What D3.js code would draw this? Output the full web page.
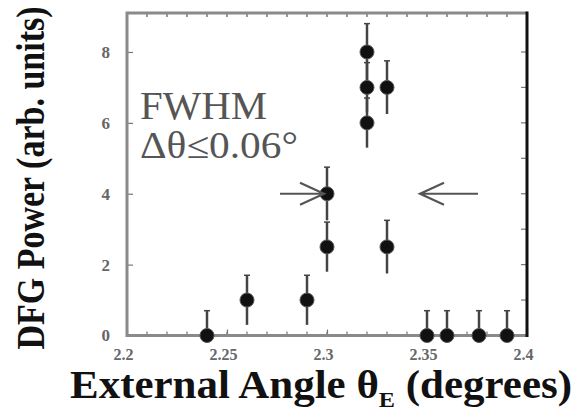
<!DOCTYPE html>
<html>
<head>
<meta charset="utf-8">
<script src="https://cdn.jsdelivr.net/npm/d3@7"></script>
<style>
	body { margin: 0; background: #fff; }
	svg { display: block; }
</style>
</head>
<body>
<svg></svg>
<script>
const svgWidth = 574;
const svgHeight = 414;

// measured points (angle in degrees, DFG power in arb. units)
const angles = [2.24, 2.26, 2.29, 2.30, 2.30, 2.32, 2.32, 2.32, 2.33, 2.33, 2.35, 2.36, 2.376, 2.39];
const powers = [0, 1, 1, 2.5, 4, 6, 7, 8, 7, 2.5, 0, 0, 0, 0];
const errors = [0.7, 0.7, 0.7, 0.7, 0.75, 0.7, 0.7, 0.8, 0.75, 0.75, 0.7, 0.7, 0.7, 0.7];

const xTicks = [2.2, 2.25, 2.3, 2.35, 2.4];
const xTickLabels = ["2.2", "2.25", "2.3", "2.35", "2.4"];
const xMinorTicks = d3.range(2.21, 2.4, 0.01);
const yTicks = [0, 2, 4, 6, 8];
const yMinorTicks = [1, 3, 5, 7];

// FWHM arrows: start angle, end angle, at power level
const arrowStarts = [2.2765, 2.3755];
const arrowEnds = [2.2985, 2.3465];
const arrowLevel = 4;

const svg = d3.select("svg")
				.attr("width", svgWidth)
				.attr("height", svgHeight);

const plotLeft = 127, plotRight = 527, plotTop = 13, plotBottom = 335.5;

let xScale = d3.scaleLinear()
				.domain([2.2, 2.4])
				.range([plotLeft, plotRight]);
let yScale = d3.scaleLinear()
				.domain([0, 9.1])
				.range([plotBottom, plotTop]);

const tickGrey = "#777";
const serif = "Liberation Serif, DejaVu Serif, serif";

// minor ticks top and bottom
svg.append("g")
	.selectAll("line")
	.data(xMinorTicks)
	.enter()
	.append("line")
		.attr("x1", d => xScale(d))
		.attr("x2", d => xScale(d))
		.attr("y1", plotTop)
		.attr("y2", plotTop + 4)
		.attr("stroke", tickGrey)
		.attr("stroke-width", 1.5);

svg.append("g")
	.selectAll("line")
	.data(xMinorTicks)
	.enter()
	.append("line")
		.attr("x1", d => xScale(d))
		.attr("x2", d => xScale(d))
		.attr("y1", plotBottom)
		.attr("y2", plotBottom - 4)
		.attr("stroke", tickGrey)
		.attr("stroke-width", 1.2);

// ticks on right edge
svg.append("g")
	.selectAll("line")
	.data(yMinorTicks.concat(yTicks.slice(1)))
	.enter()
	.append("line")
		.attr("x1", plotRight)
		.attr("x2", plotRight - 6)
		.attr("y1", d => yScale(d))
		.attr("y2", d => yScale(d))
		.attr("stroke", tickGrey)
		.attr("stroke-width", 1.2);

// x axis
let xAxis = d3.axisBottom(xScale)
				.tickValues(xTicks)
				.tickFormat((d, i) => xTickLabels[i])
				.tickSize(-6)
				.tickSizeOuter(0)
				.tickPadding(13);
let gx = svg.append("g")
	.attr("transform", `translate(0, ${plotBottom})`)
	.call(xAxis);
gx.select(".domain").remove();
gx.selectAll("line").attr("stroke", tickGrey).attr("stroke-width", 1.2);
gx.selectAll("text")
	.attr("dx", -4)
	.attr("fill", "#666")
	.attr("font-family", serif)
	.attr("font-weight", "bold")
	.attr("font-size", 16);

// y axis
let yAxis = d3.axisLeft(yScale)
				.tickValues(yTicks)
				.tickSize(-6)
				.tickSizeOuter(0)
				.tickPadding(17);
let gy = svg.append("g")
	.attr("transform", `translate(${plotLeft}, 0)`)
	.call(yAxis);
gy.select(".domain").remove();
gy.selectAll("line").attr("stroke", tickGrey).attr("stroke-width", 1.2);
gy.selectAll("text")
	.attr("fill", "#666")
	.attr("font-family", serif)
	.attr("font-weight", "bold")
	.attr("font-size", 17);

// frame
svg.append("path")
	.attr("d", `M${plotRight},${plotTop} L${plotLeft},${plotTop} L${plotLeft},${plotBottom} L${plotRight},${plotBottom}`)
	.attr("fill", "none")
	.attr("stroke", "#8a8a8a")
	.attr("stroke-width", 3);
svg.append("line")
	.attr("x1", plotRight).attr("x2", plotRight)
	.attr("y1", plotTop - 1.5).attr("y2", plotBottom + 1.5)
	.attr("stroke", "#111")
	.attr("stroke-width", 3);

// error bars
const points = angles.map((a, i) => ({x: a, y: powers[i], e: errors[i]}));

svg.append("g")
	.selectAll("line")
	.data(points)
	.enter()
	.append("line")
		.attr("x1", d => xScale(d.x))
		.attr("x2", d => xScale(d.x))
		.attr("y1", d => yScale(d.y + d.e))
		.attr("y2", d => yScale(Math.max(0, d.y - d.e)))
		.attr("stroke", "#444")
		.attr("stroke-width", 2.5);

svg.append("g")
	.selectAll("line")
	.data(points)
	.enter()
	.append("line")
		.attr("x1", d => xScale(d.x) - 3)
		.attr("x2", d => xScale(d.x) + 3)
		.attr("y1", d => yScale(d.y + d.e))
		.attr("y2", d => yScale(d.y + d.e))
		.attr("stroke", "#444")
		.attr("stroke-width", 1.5);

// Data points
svg.append("g")
	.selectAll("circle")
	.data(points)
	.enter()
	.append("circle")
		.attr("cx", d => xScale(d.x))
		.attr("cy", d => yScale(d.y))
		.attr("r", 7)
		.attr("fill", "#111")
		.attr("stroke", "#555")
		.attr("stroke-width", 1);

// FWHM arrows
arrowStarts.forEach((a, i) => {
	let x0 = xScale(a), x1 = xScale(arrowEnds[i]), yy = yScale(arrowLevel);
	let dir = Math.sign(x1 - x0);
	let bx = x1 - dir * 24;
	svg.append("path")
		.attr("d", `M${x0},${yy} L${x1},${yy} M${bx},${yy - 11} L${x1},${yy} L${bx},${yy + 11}`)
		.attr("fill", "none")
		.attr("stroke", "#555")
		.attr("stroke-width", 2.2);
});

// FWHM annotation
svg.append("text")
	.text("FWHM")
	.attr("x", xScale(2.2065))
	.attr("y", yScale(6.1))
	.attr("font-family", serif)
	.attr("font-size", 39)
	.attr("textLength", 127)
	.attr("lengthAdjust", "spacingAndGlyphs")
	.attr("fill", "#555");
svg.append("text")
	.text("\u0394\u03b8\u22640.06\u00b0")
	.attr("x", xScale(2.2065))
	.attr("y", yScale(5.0))
	.attr("font-family", serif)
	.attr("font-size", 37)
	.attr("textLength", 158)
	.attr("lengthAdjust", "spacingAndGlyphs")
	.attr("fill", "#555");

// Axes labels
// X axis
let xt = svg.append("text")
	.attr("x", 70)
	.attr("y", 398)
	.attr("font-family", serif)
	.attr("font-weight", "bold")
	.attr("font-size", 39)
	.attr("textLength", 502)
	.attr("lengthAdjust", "spacingAndGlyphs")
	.attr("fill", "#111");
xt.append("tspan").text("External Angle \u03b8");
xt.append("tspan").text("E").attr("font-size", 22).attr("dy", 9);
xt.append("tspan").text(" (degrees)").attr("dy", -9);

// Y axis (glyphs slightly stretched across the text, like the scan)
svg.append("text")
	.text("DFG Power (arb. units)")
	.attr("transform", "rotate(-90) scale(1, 1.15)")
	.attr("x", -178)
	.attr("y", 38.5)
	.attr("font-family", serif)
	.attr("font-weight", "bold")
	.attr("font-size", 34)
	.attr("text-anchor", "middle")
	.attr("fill", "#111");
</script>
</body>
</html>
